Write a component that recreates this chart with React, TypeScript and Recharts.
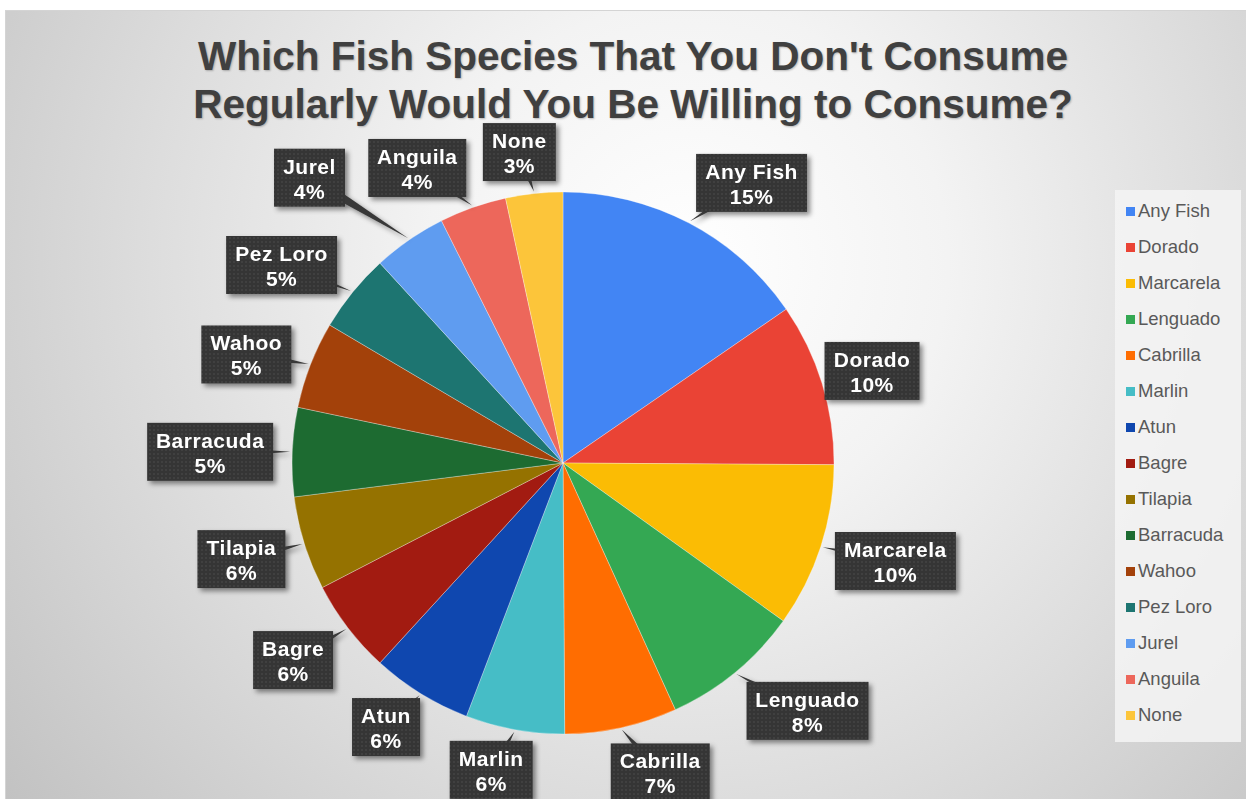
import { PieChart, Pie, Cell, Legend } from 'recharts';

const FONT = '"Liberation Sans", Arial, sans-serif';

const species = [
  'Any Fish', 'Dorado', 'Marcarela', 'Lenguado', 'Cabrilla', 'Marlin', 'Atun', 'Bagre',
  'Tilapia', 'Barracuda', 'Wahoo', 'Pez Loro', 'Jurel', 'Anguila', 'None',
];
const shares = [15.4, 9.7, 9.8, 8.3, 6.7, 5.9, 6.0, 5.6, 5.6, 5.3, 5.2, 4.7, 4.4, 4.0, 3.4];
const sliceColors = [
  '#4285f4', '#ea4335', '#fbbc04', '#34a853', '#ff6d01', '#46bdc6', '#0f47af', '#a21b11',
  '#957200', '#1d6b31', '#a3410a', '#1d7571', '#5f9cf0', '#ed675b', '#fcc53a',
];

const data = species.map((name, i) => ({ name, value: shares[i] }));

// callouts were hand-dragged in the original, so nudge them off the default spot
const labelNudge: Record<string, [number, number]> = {
  'Any Fish': [33, 16], Dorado: [-13, 7], Marcarela: [0, -10], Lenguado: [26, -18],
  Cabrilla: [28, -5], Marlin: [-15, -7], Atun: [-6, -13], Bagre: [-6, -5],
  Tilapia: [-3, -3], Barracuda: [-6, 3], Wahoo: [-4, 13], 'Pez Loro': [-14, 19],
  Jurel: [-68, -16], Anguila: [-37, 13], None: [-10, 3],
};

const RAD = Math.PI / 180;
let ctx: CanvasRenderingContext2D | null = null;
function measure(s: string) {
  if (!ctx) ctx = document.createElement('canvas').getContext('2d');
  if (!ctx) return s.length * 12;
  ctx.font = `bold 21px ${FONT}`;
  return ctx.measureText(s).width + s.length * 0.5;
}

function Callout(props: any) {
  const { cx, cy, midAngle, outerRadius, percent, name } = props;
  const cos = Math.cos(-midAngle * RAD);
  const sin = Math.sin(-midAngle * RAD);
  const w = Math.round(measure(name) + 18);
  const h = 58;
  const half = Math.abs(cos) * w / 2 + Math.abs(sin) * h / 2;
  const dist = outerRadius + 12 + half;
  const nudge = labelNudge[name] || [0, 0];
  const bx = cx + dist * cos + nudge[0];
  const by = cy + dist * sin + nudge[1];
  const tx = cx + (outerRadius + 2) * cos;
  const ty = cy + (outerRadius + 2) * sin;
  const dx = tx - bx;
  const dy = ty - by;
  const len = Math.hypot(dx, dy) || 1;
  const px = (-dy / len) * 6;
  const py = (dx / len) * 6;
  const textProps = {
    textAnchor: 'middle' as const,
    fill: '#ffffff',
    fontSize: 21,
    fontWeight: 'bold',
    fontFamily: FONT,
    letterSpacing: 0.5,
  };
  return (
    <g filter="url(#calloutShadow)">
      <polygon points={`${tx},${ty} ${bx + px},${by + py} ${bx - px},${by - py}`} fill="#383838" />
      <rect x={bx - w / 2} y={by - h / 2} width={w} height={h} fill="url(#dots)" />
      <text x={bx} y={by - 4} {...textProps}>
        {name}
      </text>
      <text x={bx} y={by + 21} {...textProps}>
        {Math.round(percent * 100)}%
      </text>
    </g>
  );
}

function LegendBox(props: any) {
  const items = [...(props.payload || [])].sort(
    (a: any, b: any) => species.indexOf(a.value) - species.indexOf(b.value)
  );
  return (
    <div style={{ background: 'rgba(244,244,244,0.85)', height: 552, paddingTop: 3, boxSizing: 'border-box' }}>
      {items.map((entry: any, i: number) => (
        <div key={i} style={{ height: 36, display: 'flex', alignItems: 'center', fontFamily: FONT, fontSize: 18.5, color: '#595959' }}>
          <span style={{ display: 'inline-block', width: 9, height: 9, background: entry.color, marginLeft: 11, marginRight: 3 }} />
          {entry.value}
        </div>
      ))}
    </div>
  );
}

export default function App() {
  return (
    <div style={{ position: 'absolute', left: 0, top: 0, width: 1246, height: 799, background: '#ffffff', overflow: 'hidden' }}>
      <svg width={0} height={0} style={{ position: 'absolute' }}>
        <defs>
          <pattern id="dots" width={4} height={4} patternUnits="userSpaceOnUse">
            <rect width={4} height={4} fill="#363636" />
            <circle cx={2} cy={2} r={0.8} fill="#4a4a4a" />
          </pattern>
          <filter id="calloutShadow" x="-30%" y="-30%" width="160%" height="160%">
            <feDropShadow dx={3} dy={3} stdDeviation={2.5} floodColor="#000" floodOpacity={0.45} />
          </filter>
        </defs>
      </svg>
      <div
        style={{
          position: 'absolute', left: 5, top: 10, right: 0, bottom: 0,
          borderTop: '1px solid #d4d4d4', borderLeft: '1px solid #d4d4d4',
          background: 'radial-gradient(circle farthest-corner at 55% 32%, #ffffff 0%, #f3f3f3 30%, #dddddd 62%, #c2c2c2 100%)',
        }}
      />
      <div
        style={{
          position: 'absolute', left: 0, top: 32, width: 1266, textAlign: 'center',
          fontFamily: FONT, fontWeight: 'bold', fontSize: 40.5, lineHeight: '48px', color: '#404040',
          textShadow: '1px 1px 2px rgba(0,0,0,0.25)',
        }}
      >
        Which Fish Species That You Don't Consume
        <br />
        Regularly Would You Be Willing to Consume?
      </div>
      <div style={{ position: 'absolute', left: 0, top: 0 }}>
        <PieChart width={1246} height={799} margin={{ top: 0, right: 0, bottom: 0, left: 0 }}>
          <Pie
            data={data}
            dataKey="value"
            nameKey="name"
            cx={563}
            cy={463}
            outerRadius={271}
            startAngle={90}
            endAngle={-270}
            stroke="#ffffff"
            strokeOpacity={0.3}
            strokeWidth={1}
            label={Callout}
            labelLine={false}
            isAnimationActive={false}
          >
            {data.map((d, i) => (
              <Cell key={d.name} fill={sliceColors[i]} />
            ))}
          </Pie>
          <Legend
            layout="vertical"
            align="right"
            verticalAlign="top"
            content={LegendBox}
            wrapperStyle={{ left: 1115, top: 190, width: 126 }}
          />
        </PieChart>
      </div>
    </div>
  );
}
